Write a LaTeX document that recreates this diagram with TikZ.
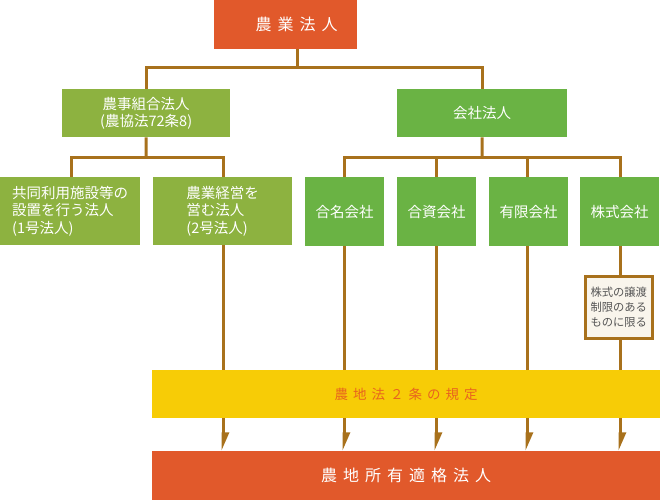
\documentclass[tikz,border=0pt]{standalone}
\usepackage{fontspec}
\setmainfont{Noto Sans CJK JP}
\usetikzlibrary{arrows.meta}
\definecolor{redbox}{HTML}{E1592B}
\definecolor{olive}{HTML}{8DB240}
\definecolor{greenbox}{HTML}{6AB344}
\definecolor{yellowbox}{HTML}{F7CC06}
\definecolor{brownline}{HTML}{A8711C}
\definecolor{cream}{HTML}{F9F5EC}
\definecolor{orangetext}{HTML}{E8641E}
\definecolor{graytext}{HTML}{555555}
\newcommand{\gp}{\hspace{6pt}}
\newcommand{\gq}{\hspace{5pt}}
\begin{document}
\begin{tikzpicture}[x=1pt,y=-1pt,
  box/.style={draw=none,inner sep=0pt,anchor=north west,font=\fontsize{14.5}{17.5}\selectfont,text=white,align=center},
  conn/.style={draw=brownline,line width=3pt},
  arr/.style={draw=brownline,line width=3pt,-{Triangle[harpoon,length=15pt,width=12pt]}}]
\useasboundingbox (0,0) rectangle (660,500);
% top
\node[box,fill=redbox,minimum width=143pt,minimum height=49pt,font=\fontsize{16}{18}\selectfont] (top) at (214,0) {\hspace*{22pt}農\gp 業\gp 法\gp 人};
\node[box,fill=olive,minimum width=168pt,minimum height=48pt] (nouji) at (62,89) {農事組合法人\\(農協法72条8)};
\node[box,fill=greenbox,minimum width=170pt,minimum height=48pt] (kaisha) at (397,89) {会社法人};
\node[box,fill=olive,minimum width=140pt,minimum height=68pt,align=left] (g1) at (0,177) {共同利用施設等の\\設置を行う法人\\(1号法人)};
\node[box,fill=olive,minimum width=139pt,minimum height=68pt,align=left] (g2) at (153,177) {農業経営を\\営む法人\\(2号法人)};
\node[box,fill=greenbox,minimum width=79pt,minimum height=69pt] (gomei) at (305,177) {合名会社};
\node[box,fill=greenbox,minimum width=79pt,minimum height=69pt] (goshi) at (397,177) {合資会社};
\node[box,fill=greenbox,minimum width=79pt,minimum height=69pt] (yugen) at (489,177) {有限会社};
\node[box,fill=greenbox,minimum width=79pt,minimum height=69pt] (kabu) at (580,177) {株式会社};
\node[box,fill=cream,draw=brownline,line width=2.5pt,minimum width=67pt,minimum height=62pt,text=graytext,font=\fontsize{11.3}{15}\selectfont] (joto) at (584,275) {株式の譲渡\\制限のある\\ものに限る};
\node[box,fill=yellowbox,minimum width=508pt,minimum height=48pt,text=orangetext,font=\fontsize{13.5}{16}\selectfont] (kitei) at (152,370) {農\gq 地\gq 法\gq ２\gq 条\gq の\gq 規\gq 定};
\node[box,fill=redbox,minimum width=508pt,minimum height=49pt,font=\fontsize{16}{18}\selectfont] (tekikaku) at (152,451) {農\gp 地\gp 所\gp 有\gp 適\gp 格\gp 法\gp 人};
% junctions
\coordinate (tj) at (297,68);
\coordinate (nj) at (146,157);
\coordinate (kj) at (482,157);
\coordinate (x2) at (223,0);
\coordinate (xa) at (344,0);
\coordinate (xb) at (436,0);
\coordinate (xc) at (527,0);
\coordinate (xd) at (620,0);
% top connectors
\draw[conn] (top.south -| tj) -- (tj);
\draw[conn] (nouji.north) -- (nouji.north |- tj) -- (kaisha.north |- tj) -- (kaisha.north);
\draw[conn] (nouji.south) -- (nj);
\draw[conn] (g1.north -| 71,0) -- (nj -| 71,0) -- (nj -| x2) -- (g2.north -| x2);
\draw[conn] (kaisha.south) -- (kj);
\draw[conn] (gomei.north -| xa) -- (kj -| xa) -- (kj -| xd) -- (kabu.north -| xd);
\draw[conn] (goshi.north -| xb) -- (kj -| xb);
\draw[conn] (yugen.north -| xc) -- (kj -| xc);
% down to yellow
\draw[conn] (g2.south -| x2) -- (kitei.north -| x2);
\draw[conn] (gomei.south -| xa) -- (kitei.north -| xa);
\draw[conn] (goshi.south -| xb) -- (kitei.north -| xb);
\draw[conn] (yugen.south -| xc) -- (kitei.north -| xc);
\draw[conn] (kabu.south -| xd) -- (joto.north -| xd);
\draw[conn] (joto.south -| xd) -- (kitei.north -| xd);
% arrows
\foreach \c in {x2,xa,xb,xc,xd}{
  \draw[arr] (kitei.south -| \c) -- (tekikaku.north -| \c);
}
\end{tikzpicture}
\end{document}
